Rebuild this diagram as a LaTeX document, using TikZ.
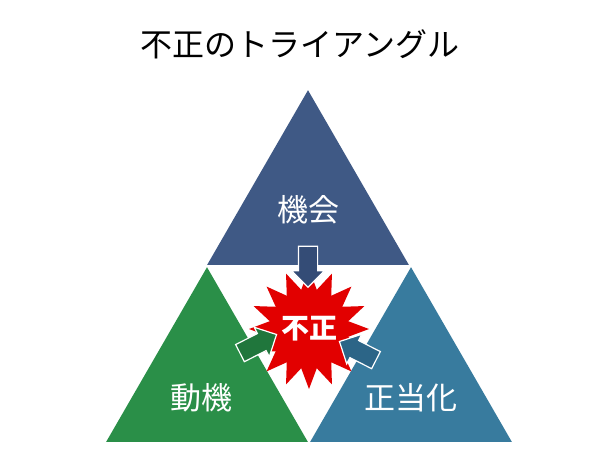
\documentclass[tikz,border=0pt]{standalone}
\usepackage{fontspec}
\setmainfont{Noto Sans CJK JP}
\usetikzlibrary{positioning, shapes.geometric, shapes.arrows}

\definecolor{chanceblue}{RGB}{63,89,133}
\definecolor{chancedark}{RGB}{52,76,118}
\definecolor{motivegreen}{RGB}{42,143,72}
\definecolor{motivedark}{RGB}{32,118,60}
\definecolor{justifyblue}{RGB}{56,123,158}
\definecolor{justifydark}{RGB}{44,101,135}
\definecolor{fraudred}{RGB}{226,0,0}

\tikzset{
  side/.style={regular polygon, regular polygon sides=3, minimum size=233pt, inner sep=0pt},
  sidelabel/.style={text=white, font=\fontsize{31}{36}\selectfont},
  push/.style={single arrow, draw=white, line width=1.2pt, inner xsep=0pt, inner ysep=9pt,
    single arrow head extend=7pt, minimum height=41pt}
}

\begin{document}
\begin{tikzpicture}[x=1pt, y=-1pt]
  \fill[white] (0,0) rectangle (600,472);
  \useasboundingbox (0,0) rectangle (600,472);

  \node (title) at (300,44) {\fontsize{32}{36}\selectfont 不正のトライアングル};

  \node[side, fill=chanceblue]  (chance)  at (308,206.7) {};
  \node[side, fill=motivegreen] (motive)  at (207,383.7) {};
  \node[side, fill=justifyblue] (justify) at (411,383.7) {};

  \node[sidelabel] (chance text)  at ([yshift=-3pt]chance.center)  {機会};
  \node[sidelabel] (motive text)  at ([xshift=-6pt, yshift=-14pt]motive.center) {動機};
  \node[sidelabel] (justify text) at ([yshift=-14pt]justify.center) {正当化};

  \node[star, star points=16, star point ratio=1.5, minimum size=120pt, inner sep=0pt,
        fill=fraudred, text=white, font=\bfseries\fontsize{28}{30}\selectfont] (fraud) at (309,329) {不正};

  \node[push, fill=chancedark,  rotate=-90] (chance arrow)  at (308,262) {};
  \node[push, fill=motivedark,  rotate=27]  (motive arrow)  at (254,346) {};
  \node[push, fill=justifydark, rotate=153] (justify arrow) at (362,353) {};
\end{tikzpicture}
\end{document}
